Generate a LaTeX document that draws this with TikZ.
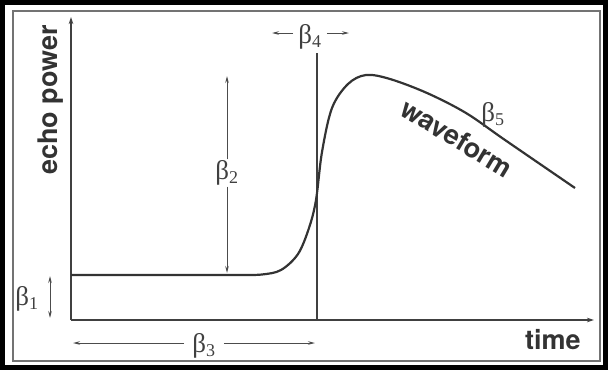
\documentclass[tikz,border=0pt]{standalone}
\usepackage{fontspec}
\setsansfont{TeX Gyre Heros}
\newfontfamily\grk{Liberation Serif}
\usetikzlibrary{arrows.meta}

\tikzset{
  axislabel/.style={font=\sffamily\bfseries\fontsize{27}{30}\selectfont, text=black!80},
  betalabel/.style={font=\grk\fontsize{27}{30}\selectfont, text=black!75, inner sep=1pt},
  dimarrow/.style={black!70, line width=0.9pt, -{Stealth[length=7pt,width=3.5pt]}},
  axisline/.style={black!75, line width=1.4pt}
}
\newcommand{\bsub}[1]{β\textsubscript{\fontsize{18}{20}\selectfont #1}}

\begin{document}
\begin{tikzpicture}[x=1pt,y=-1pt]
\useasboundingbox (0,0) rectangle (608,370);
% frame
\draw[black, line width=5pt] (2.5,2.5) rectangle (605.5,367.5);
\draw[black!55, line width=1.8pt] (13,11) rectangle (600,361);
% axes
\coordinate (origin) at (71,320);
\coordinate (ytop) at (71,17);
\coordinate (xend) at (594,320);
\draw[axisline, -{Stealth[length=7pt,width=4.5pt]}] (origin) -- (ytop);
\draw[axisline, -{Stealth[length=7pt,width=4.5pt]}] (origin) -- (xend);
\node[axislabel, rotate=90] (ylab) at (51,100) {echo power};
\node[axislabel] (xlab) at (553,340) {time};
% leading edge marker
\coordinate (vtop) at (317,53);
\coordinate (vbot) at (317,320);
\draw[axisline, line width=1.2pt] (vtop) -- (vbot);
% waveform
\draw[black!80, line width=2.2pt, line join=round] (71,275) -- (240,275)
  plot[smooth, tension=0.55] coordinates {(240,275) (262,274.5) (281,270) (298,254) (309,228)
  (316,200) (322,152) (332,108) (348,84) (366,75) (390,79) (427,93) (466,113) (505,140) (575,188)};
\node[axislabel, rotate=-31] (wave) at (457,138) {waveform};
% beta 1
\node[betalabel] (b1) at (27,299) {\bsub{1}};
\coordinate (b1top) at (50,276);
\coordinate (b1bot) at (50,318);
\draw[dimarrow, {Stealth[length=7pt,width=3.5pt]}-{Stealth[length=7pt,width=3.5pt]}] (b1top) -- (b1bot);
% beta 2
\node[betalabel] (b2) at (227,173) {\bsub{2}};
\coordinate (b2top) at (227,76);
\coordinate (b2bot) at (227,273);
\draw[dimarrow] (b2) -- (b2top);
\draw[dimarrow] (b2) -- (b2bot);
% beta 3
\node[betalabel, inner xsep=8pt] (b3) at (204,346) {\bsub{3}};
\coordinate (b3left) at (73,343);
\coordinate (b3right) at (315,343);
\draw[dimarrow] (b3.west |- b3left) -- (b3left);
\draw[dimarrow] (b3.east |- b3right) -- (b3right);
% beta 4
\node[betalabel, inner xsep=5pt] (b4) at (310,37) {\bsub{4}};
\coordinate (b4left) at (272,33);
\coordinate (b4right) at (349,33);
\draw[dimarrow] (b4.west |- b4left) -- (b4left);
\draw[dimarrow] (b4.east |- b4right) -- (b4right);
% beta 5
\node[betalabel] (b5) at (493,115) {\bsub{5}};
\end{tikzpicture}
\end{document}
